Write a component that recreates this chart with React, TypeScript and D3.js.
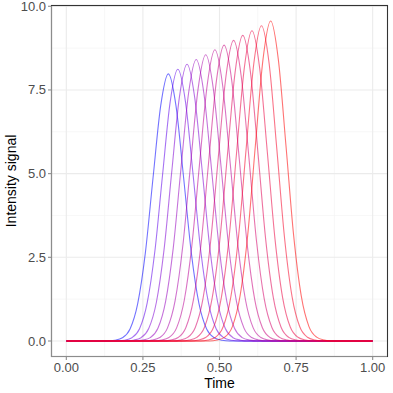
import React, { useEffect, useRef } from 'react'
import * as d3 from 'd3'

// peak positions (time) and peak heights of each signal, blue -> red
const peakTimes = [0.333, 0.364, 0.394, 0.424, 0.455, 0.485, 0.515, 0.546, 0.576, 0.606, 0.637, 0.667]
const peakHeights = [7.98, 8.12, 8.27, 8.41, 8.55, 8.70, 8.84, 8.98, 9.13, 9.27, 9.42, 9.56]

// relative peak profile (offset from peak time -> fraction of peak height)
const profileOffsets = [-0.2, -0.175, -0.15, -0.125, -0.1, -0.075, -0.05, -0.025, 0, 0.025, 0.05, 0.075, 0.1, 0.125, 0.15, 0.175, 0.2]
const profileValues = [0, 0.003, 0.012, 0.045, 0.14, 0.33, 0.61, 0.88, 1, 0.88, 0.61, 0.33, 0.14, 0.045, 0.012, 0.003, 0]

const timeRange = [0, 1]
const xTicks = [0, 0.25, 0.5, 0.75, 1]
const xMinor = [0.125, 0.375, 0.625, 0.875]
const yTicks = [0, 2.5, 5, 7.5, 10]
const yMinor = [1.25, 3.75, 6.25, 8.75]

type Pt = { t: number; v: number }

const App = () => {
  const svgRef = useRef<SVGSVGElement>(null)
  const width = 393
  const height = 393
  const margin = { top: 5, right: 5, bottom: 36, left: 51 }

  useEffect(() => {
    const svg = d3.select(svgRef.current)
    svg.selectAll('*').remove()

    const maxV = d3.max(peakHeights) as number
    const x = d3.scaleLinear()
      .domain([-0.05, 1.05])
      .range([margin.left, width - margin.right])
    const y = d3.scaleLinear()
      .domain([-0.05 * maxV, maxV * 1.05])
      .range([height - margin.bottom, margin.top])

    const font = 'Liberation Sans, Arial, Helvetica, sans-serif'

    // background + grid
    svg.append('rect')
      .attr('x', margin.left).attr('y', margin.top)
      .attr('width', width - margin.left - margin.right)
      .attr('height', height - margin.top - margin.bottom)
      .attr('fill', 'white')

    const grid = svg.append('g')
    xMinor.forEach(t => grid.append('line')
      .attr('x1', x(t)).attr('x2', x(t))
      .attr('y1', margin.top).attr('y2', height - margin.bottom)
      .attr('stroke', '#F2F2F2').attr('stroke-width', 0.6))
    yMinor.forEach(v => grid.append('line')
      .attr('y1', y(v)).attr('y2', y(v))
      .attr('x1', margin.left).attr('x2', width - margin.right)
      .attr('stroke', '#F2F2F2').attr('stroke-width', 0.6))
    xTicks.forEach(t => grid.append('line')
      .attr('x1', x(t)).attr('x2', x(t))
      .attr('y1', margin.top).attr('y2', height - margin.bottom)
      .attr('stroke', '#EBEBEB').attr('stroke-width', 1.1))
    yTicks.forEach(v => grid.append('line')
      .attr('y1', y(v)).attr('y2', y(v))
      .attr('x1', margin.left).attr('x2', width - margin.right)
      .attr('stroke', '#EBEBEB').attr('stroke-width', 1.1))

    // signals
    const color = d3.interpolateLab('blue', 'red')
    const line = d3.line<Pt>()
      .x(d => x(d.t))
      .y(d => y(d.v))
      .curve(d3.curveMonotoneX)

    peakTimes.forEach((c, i) => {
      const pts: Pt[] = [{ t: timeRange[0], v: 0 }]
      profileOffsets.forEach((o, j) => {
        pts.push({ t: c + o, v: peakHeights[i] * profileValues[j] })
      })
      pts.push({ t: timeRange[1], v: 0 })
      svg.append('path')
        .attr('d', line(pts))
        .attr('fill', 'none')
        .attr('stroke', color(i / (peakTimes.length - 1)))
        .attr('stroke-opacity', 0.55)
        .attr('stroke-width', 1.1)
    })

    // panel border
    svg.append('rect')
      .attr('x', margin.left + 0.5).attr('y', margin.top + 0.5)
      .attr('width', width - margin.left - margin.right - 1)
      .attr('height', height - margin.top - margin.bottom - 1)
      .attr('fill', 'none')
      .attr('stroke', '#333333')
      .attr('stroke-width', 1.1)
    // axis lines
    svg.append('line')
      .attr('x1', margin.left + 0.5).attr('x2', margin.left + 0.5)
      .attr('y1', margin.top + 1).attr('y2', height - margin.bottom)
      .attr('stroke', '#8C8C8C').attr('stroke-width', 1.1)
    svg.append('line')
      .attr('x1', margin.left).attr('x2', width - margin.right - 1)
      .attr('y1', height - margin.bottom - 0.5).attr('y2', height - margin.bottom - 0.5)
      .attr('stroke', '#8C8C8C').attr('stroke-width', 1.1)

    // ticks + labels
    xTicks.forEach(t => {
      svg.append('line')
        .attr('x1', x(t)).attr('x2', x(t))
        .attr('y1', height - margin.bottom).attr('y2', height - margin.bottom + 3)
        .attr('stroke', '#8C8C8C').attr('stroke-width', 1.1)
      svg.append('text')
        .attr('x', x(t)).attr('y', height - margin.bottom + 15)
        .attr('text-anchor', 'middle')
        .attr('font-family', font).attr('font-size', 13)
        .attr('fill', '#4D4D4D')
        .text(d3.format('.2f')(t))
    })
    yTicks.forEach(v => {
      svg.append('line')
        .attr('x1', margin.left - 3).attr('x2', margin.left)
        .attr('y1', y(v)).attr('y2', y(v))
        .attr('stroke', '#8C8C8C').attr('stroke-width', 1.1)
      svg.append('text')
        .attr('x', margin.left - 5).attr('y', y(v) + 4.5)
        .attr('text-anchor', 'end')
        .attr('font-family', font).attr('font-size', 13)
        .attr('fill', '#4D4D4D')
        .text(d3.format('.1f')(v))
    })

    svg.append('text')
      .attr('x', (margin.left + width - margin.right) / 2)
      .attr('y', height - 5)
      .attr('text-anchor', 'middle')
      .attr('font-family', font).attr('font-size', 14)
      .attr('fill', 'black')
      .text('Time')
    svg.append('text')
      .attr('transform', `translate(16,${(margin.top + height - margin.bottom) / 2}) rotate(-90)`)
      .attr('text-anchor', 'middle')
      .attr('font-family', font).attr('font-size', 14)
      .attr('fill', 'black')
      .text('Intensity signal')
  }, [])

  return (
    <svg ref={svgRef} width={width} height={height}
      style={{ position: 'absolute', left: 0, top: 0, background: 'white' }} />
  )
}

export default App
